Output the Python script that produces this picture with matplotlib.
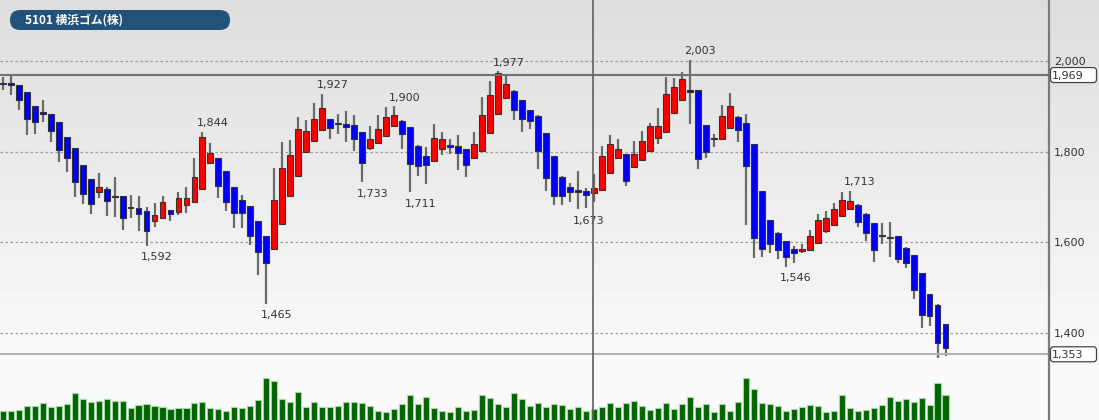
import numpy as np
import matplotlib.pyplot as plt
from matplotlib.patches import Rectangle, FancyBboxPatch

plt.rcParams['font.family'] = ['DejaVu Sans', 'Noto Sans CJK JP']

title = "5101 横浜ゴム(株)"

# 日足 OHLC (円)
opens = [1949, 1950, 1948, 1931, 1901, 1884, 1884, 1865, 1833, 1809,
         1771, 1740, 1712, 1717, 1702, 1702, 1678, 1676, 1668, 1646,
         1654, 1672, 1666, 1682, 1690, 1718, 1776, 1787, 1757, 1722,
         1693, 1680, 1647, 1614, 1585, 1640, 1702, 1747, 1799, 1823,
         1848, 1872, 1862, 1862, 1858, 1844, 1809, 1820, 1835, 1856,
         1867, 1854, 1812, 1790, 1780, 1806, 1814, 1813, 1805, 1787,
         1802, 1842, 1883, 1918, 1934, 1913, 1892, 1879, 1841, 1790,
         1745, 1723, 1714, 1714, 1708, 1716, 1754, 1785, 1794, 1766,
         1782, 1802, 1830, 1843, 1886, 1914, 1936, 1935, 1858, 1829,
         1828, 1853, 1877, 1863, 1816, 1713, 1649, 1621, 1602, 1585,
         1580, 1583, 1598, 1624, 1638, 1657, 1674, 1683, 1663, 1642,
         1614, 1612, 1613, 1588, 1571, 1532, 1486, 1462, 1419]
highs = [1965, 1969, 1948, 1931, 1901, 1913, 1884, 1865, 1833, 1809,
         1771, 1740, 1752, 1723, 1745, 1702, 1704, 1702, 1679, 1686,
         1702, 1672, 1712, 1723, 1787, 1844, 1820, 1787, 1757, 1722,
         1704, 1680, 1647, 1614, 1765, 1822, 1826, 1876, 1870, 1908,
         1927, 1872, 1884, 1890, 1881, 1844, 1856, 1881, 1898, 1900,
         1869, 1854, 1814, 1811, 1862, 1844, 1829, 1837, 1806, 1844,
         1921, 1956, 1977, 1969, 1935, 1914, 1893, 1880, 1842, 1791,
         1746, 1730, 1757, 1719, 1751, 1813, 1837, 1829, 1795, 1824,
         1846, 1864, 1896, 1964, 1962, 1975, 2003, 1936, 1859, 1839,
         1904, 1929, 1878, 1883, 1817, 1714, 1650, 1622, 1603, 1591,
         1596, 1627, 1663, 1668, 1686, 1710, 1713, 1684, 1664, 1643,
         1642, 1644, 1614, 1589, 1572, 1533, 1487, 1463, 1420]
lows = [1935, 1924, 1893, 1837, 1840, 1866, 1821, 1778, 1756, 1701,
        1685, 1663, 1697, 1657, 1655, 1627, 1653, 1626, 1592, 1634,
        1651, 1646, 1660, 1665, 1686, 1715, 1774, 1697, 1670, 1632,
        1632, 1594, 1528, 1465, 1582, 1638, 1700, 1745, 1797, 1821,
        1846, 1827, 1839, 1822, 1802, 1733, 1804, 1818, 1833, 1854,
        1805, 1711, 1746, 1728, 1778, 1793, 1794, 1759, 1743, 1786,
        1800, 1840, 1881, 1916, 1870, 1843, 1849, 1761, 1714, 1682,
        1682, 1690, 1673, 1676, 1688, 1714, 1752, 1783, 1724, 1764,
        1780, 1800, 1818, 1841, 1884, 1912, 1862, 1761, 1785, 1810,
        1826, 1851, 1822, 1638, 1565, 1567, 1576, 1563, 1546, 1554,
        1576, 1581, 1596, 1620, 1636, 1655, 1672, 1633, 1602, 1557,
        1596, 1567, 1554, 1543, 1474, 1410, 1416, 1345, 1350]
closes = [1949, 1948, 1915, 1871, 1865, 1884, 1846, 1804, 1785, 1733,
          1707, 1685, 1722, 1692, 1700, 1653, 1676, 1662, 1624, 1661,
          1690, 1662, 1697, 1698, 1745, 1833, 1798, 1725, 1690, 1664,
          1665, 1615, 1579, 1555, 1693, 1765, 1792, 1851, 1846, 1871,
          1896, 1853, 1861, 1855, 1829, 1774, 1828, 1850, 1877, 1881,
          1840, 1772, 1768, 1770, 1831, 1827, 1810, 1796, 1770, 1816,
          1880, 1925, 1973, 1949, 1893, 1871, 1868, 1802, 1741, 1702,
          1702, 1710, 1712, 1704, 1720, 1791, 1816, 1805, 1736, 1795,
          1824, 1857, 1857, 1927, 1942, 1960, 1932, 1783, 1800, 1827,
          1879, 1901, 1848, 1769, 1610, 1585, 1596, 1582, 1568, 1576,
          1585, 1613, 1649, 1653, 1674, 1693, 1691, 1645, 1621, 1582,
          1616, 1610, 1563, 1554, 1495, 1440, 1438, 1377, 1366]
volumes = [9, 9, 10, 14, 14, 17.3, 13, 14, 16, 26.7,
           20.7, 18, 19, 20.7, 19.3, 19.3, 12, 14.7, 15.7, 14,
           13.3, 10.7, 12, 12, 17, 18, 12, 11.3, 9.3, 13,
           11.7, 14.3, 20.3, 42, 39, 20.7, 17.7, 28, 12.7, 18,
           12.7, 12.7, 13.7, 18, 18, 17, 14, 8.7, 8, 10.7,
           15.7, 25, 16, 23.3, 11.7, 9.3, 8, 13.3, 8.7, 9.7,
           24.7, 22, 15.7, 13, 26.7, 21, 14, 17, 13.3, 16,
           14.7, 11.3, 12.7, 9.3, 11, 13, 17, 13, 16.7, 18.7,
           14, 10, 12, 16.7, 10.7, 15.7, 22.7, 12.7, 16, 8.3,
           16, 8.7, 18, 42.3, 30.7, 17, 15.7, 13.7, 9, 11.3,
           12.7, 15, 13.7, 7.7, 8.7, 25.3, 12.3, 9.3, 10, 11.7,
           14.7, 23, 18.7, 21, 18, 21.7, 14.7, 36.7, 25]

# 高値・安値ラベル (足の番号)
high_marks = [25, 40, 49, 62, 86, 106]
low_marks = [18, 33, 45, 51, 72, 98]

price_ticks = [1400, 1600, 1800, 2000]
cursor_idx = 74
cursor_price = 1969
bottom_price = 1353

W, H = 1099, 420
fig = plt.figure(figsize=(W / 100, H / 100), dpi=100)

# 背景グラデーション
bg = fig.add_axes([0, 0, 1, 1], zorder=-10)
yy = np.arange(H)
shade = np.where(yy < 354, 221 + (249 - 221) * yy / 354, 250) / 255
bg.imshow(np.repeat(shade[:, None], 2, axis=1), cmap='gray', vmin=0, vmax=1,
          aspect='auto', extent=[0, 1, 0, 1], origin='upper')
bg.axis('off')

plot_w = 1049 / W
ax = fig.add_axes([0, 66 / H, plot_w, 354 / H])
axv = fig.add_axes([0, 0, plot_w, 66 / H])
for a in (ax, axv):
    a.set_facecolor('none')
    for s in ('top', 'left', 'bottom'):
        a.spines[s].set_visible(False)
    a.spines['right'].set_color('#7a7a7a')
    a.spines['right'].set_linewidth(1.6)
ax.spines['bottom'].set_visible(True)
ax.spines['bottom'].set_color('#b4b4b4')
ax.spines['bottom'].set_linewidth(1.5)

n = len(opens)
idx = np.arange(n)
step = 7.99
xmin = -2.7 / step
xmax = (1049 - 2.7) / step
ppu = 0.4533
ymax = 2000 + 61 / ppu
ymin = 2000 - 293 / ppu

for i in idx:
    o, h, l, c = opens[i], highs[i], lows[i], closes[i]
    ax.vlines(i, l, h, color='#6a6a6a', lw=1.6, zorder=2, clip_on=False)
    col = '#ff0000' if c > o else '#0000ff'
    bh = max(abs(c - o), 2.5)
    ax.add_patch(Rectangle((i - 0.37, min(o, c)), 0.74, bh, facecolor=col,
                           edgecolor='#333333', lw=0.8, zorder=3))

axv.bar(idx, volumes, width=0.76, color='#006400', edgecolor='#a8d5a8',
        lw=0.8, zorder=2)

for i in high_marks:
    ax.annotate(f"{highs[i]:,}", (i, highs[i]), xytext=(7.5, 6.2),
                textcoords='offset points', ha='center', va='center',
                fontsize=8, color='#333333')
for i in low_marks:
    ax.annotate(f"{lows[i]:,}", (i, lows[i]), xytext=(7.5, -8.3),
                textcoords='offset points', ha='center', va='center',
                fontsize=8, color='#333333')

for p in price_ticks:
    ax.axhline(p, color='#9a9a9a', lw=0.9, ls=(0, (2, 2)), zorder=1)

ax.axhline(cursor_price, color='#707070', lw=1.5, zorder=4)
ax.axvline(cursor_idx - 0.06, color='#606060', lw=1.2, zorder=4)
axv.axvline(cursor_idx - 0.06, color='#606060', lw=1.2, zorder=4)

ax.set_xlim(xmin, xmax)
ax.set_ylim(ymin, ymax)
axv.set_xlim(xmin, xmax)
axv.set_ylim(0, 66)
axv.set_xticks([])
axv.set_yticks([])
ax.set_xticks([])
ax.yaxis.tick_right()
ax.set_yticks(price_ticks)
ax.set_yticklabels([f"{p:,}" for p in price_ticks])
ax.tick_params(axis='y', length=0, pad=3.5, labelsize=8, labelcolor='#333333')

# ピクセル座標のオーバーレイ (銘柄名と価格ボックス)
ov = fig.add_axes([0, 0, 1, 1], zorder=10)
ov.set_xlim(0, W)
ov.set_ylim(H, 0)
ov.set_facecolor('none')
ov.axis('off')

ov.add_patch(FancyBboxPatch((10, 10), 220, 20,
                            boxstyle='round,pad=0,rounding_size=10',
                            fc='#22527a', ec='none'))
ov.text(25, 20.5, title, ha='left', va='center', color='white',
        fontsize=8.5, fontweight='bold',
        family=['Noto Sans CJK JP', 'DejaVu Sans'])

for p in (cursor_price, bottom_price):
    yp = H - ax.transData.transform((0, p))[1]
    ov.add_patch(FancyBboxPatch((1050.5, yp - 7.5), 46, 15,
                                boxstyle='round,pad=0,rounding_size=3',
                                fc='white', ec='#444444', lw=0.9))
    ov.text(1052, yp + 0.5, f"{p:,}", ha='left', va='center', fontsize=8,
            color='#333333')

fig.savefig('out.png', dpi=100)
